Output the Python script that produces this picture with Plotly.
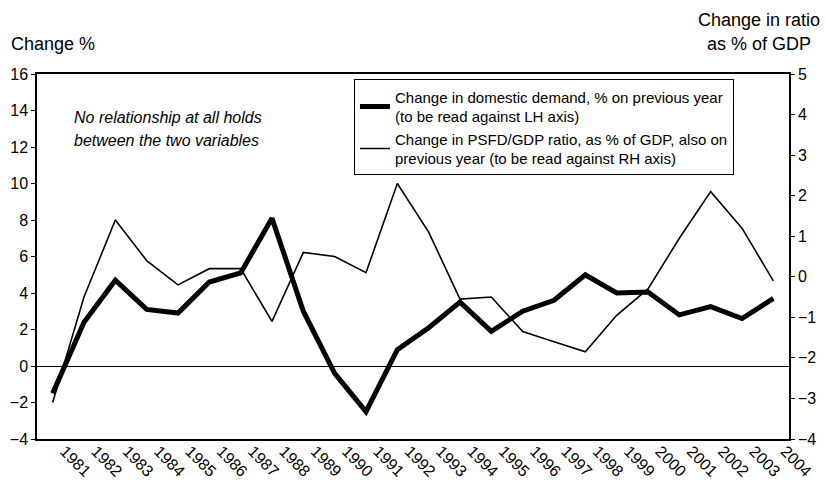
import plotly.graph_objects as go

years = list(range(1981, 2005))
domestic_demand = [-1.5, 2.4, 4.7, 3.1, 2.9, 4.6, 5.1, 8.1, 3.0, -0.4, -2.5, 0.9,
                   2.1, 3.5, 1.9, 3.0, 3.6, 5.0, 4.0, 4.05, 2.8, 3.25, 2.6, 3.7]
psfd_ratio = [-3.1, -0.5, 1.4, 0.4, -0.2, 0.2, 0.2, -1.1, 0.6, 0.5, 0.1, 2.3,
              1.1, -0.55, -0.5, -1.35, -1.6, -1.85, -0.95, -0.3, 0.95, 2.1, 1.2, -0.1]

FONT = "Liberation Sans, Arial, Helvetica, sans-serif"

fig = go.Figure()
fig.add_trace(go.Scatter(
    x=years, y=domestic_demand, mode="lines",
    line=dict(color="black", width=5),
    name="Change in domestic demand, % on previous year<br>(to be read against LH axis)",
    yaxis="y"))
fig.add_trace(go.Scatter(
    x=years, y=psfd_ratio, mode="lines",
    line=dict(color="black", width=1.6),
    name="Change in PSFD/GDP ratio, as % of GDP, also on<br>previous year (to be read against RH axis)",
    yaxis="y2"))

fig.update_layout(
    width=825, height=483,
    autosize=False,
    margin=dict(l=37, r=36, t=74, b=44, autoexpand=False),
    paper_bgcolor="white", plot_bgcolor="white",
    font=dict(family=FONT, color="black", size=16),
    showlegend=True,
    legend=dict(x=0.4215, y=0.985, xanchor="left", yanchor="top",
                bgcolor="white", bordercolor="black", borderwidth=1,
                font=dict(size=15, family=FONT), tracegroupgap=0),
    xaxis=dict(range=[1980.5, 2004.5], tickvals=years, ticktext=[str(y) for y in years],
               tickangle=45, showgrid=False, showline=True, linecolor="black", linewidth=1.5,
               mirror=True, ticks="", tickfont=dict(size=16), zeroline=False,
               automargin=False, ticklabelshift=12, ticklabelstandoff=-5),
    yaxis=dict(range=[-4, 16], dtick=2, showgrid=False, showline=True, linecolor="black",
               linewidth=1.5, ticks="outside", ticklen=4, tickcolor="black",
               zeroline=True, zerolinecolor="black", zerolinewidth=1,
               tickfont=dict(size=16), automargin=False),
    yaxis2=dict(range=[-4, 5], dtick=1, overlaying="y", side="right", showgrid=False,
                showline=True, linecolor="black", linewidth=1.5, ticks="outside",
                ticklen=4, tickcolor="black", zeroline=False, tickfont=dict(size=16),
                automargin=False),
    annotations=[
        dict(text="Change %", xref="paper", yref="paper", x=-0.0372, y=1.082,
             xanchor="left", yanchor="middle", showarrow=False, font=dict(size=18)),
        dict(text="Change in ratio", xref="paper", yref="paper", x=0.960, y=1.148,
             xanchor="center", yanchor="middle", showarrow=False, font=dict(size=18)),
        dict(text="as % of GDP", xref="paper", yref="paper", x=0.960, y=1.082,
             xanchor="center", yanchor="middle", showarrow=False, font=dict(size=18)),
        dict(text="<i>No relationship at all holds</i>",
             xref="paper", yref="paper", x=0.0465, y=0.882, xanchor="left", yanchor="middle",
             showarrow=False, font=dict(size=16)),
        dict(text="<i>between the two variables</i>",
             xref="paper", yref="paper", x=0.0465, y=0.819, xanchor="left", yanchor="middle",
             showarrow=False, font=dict(size=16)),
    ],
)

fig.write_html("out.html", config={"displayModeBar": False},
               post_script="document.body.style.margin='0';document.body.style.overflow='hidden';")
